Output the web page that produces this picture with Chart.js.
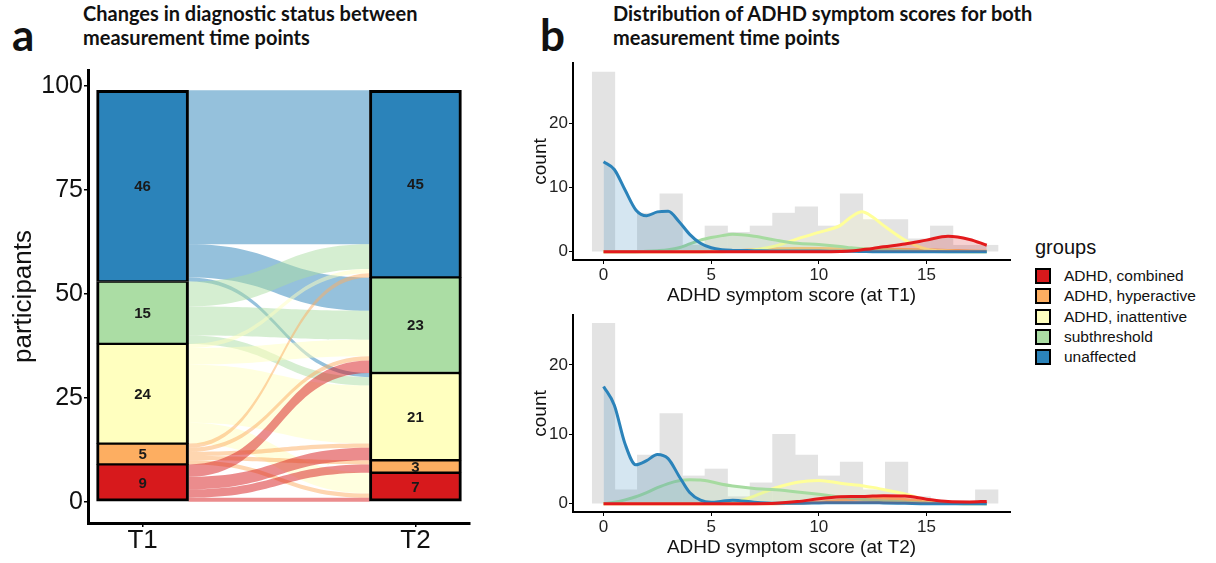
<!DOCTYPE html>
<html>
<head>
<meta charset="utf-8">
<script src="https://cdn.jsdelivr.net/npm/chart.js@4.4.1/dist/chart.umd.min.js"></script>
<style>
  body { margin: 0; background: #fff; width: 1216px; height: 563px; position: relative; overflow: hidden;
         font-family: "Liberation Sans", Arial, sans-serif; color: #111; }
  .letter { position: absolute; font-family: Lato, sans-serif; font-weight: bold; font-size: 44px; line-height: 44px; }
  .title { position: absolute; font-family: Lato, sans-serif; font-weight: bold; font-size: 20px; line-height: 24px; white-space: nowrap; }
  .box { position: absolute; }
  #legend { position: absolute; left: 1035px; top: 235px; }
  #legend .head { font-size: 20px; line-height: 24px; margin-bottom: 7px; }
  #legend .row { display: flex; align-items: center; height: 20.3px; font-size: 15.5px; }
  #legend .sw { width: 16px; height: 16px; box-sizing: border-box; border: 2.5px solid #000; margin-right: 13px; }
</style>
</head>
<body>
<div class="letter" style="left:12px; top:12px;">a</div>
<div class="title" style="left:83px; top:1px;">Changes in diagnostic status between<br>measurement time points</div>
<div class="letter" style="left:540px; top:12px;">b</div>
<div class="title" style="left:613px; top:1px;">Distribution of ADHD symptom scores for both<br>measurement time points</div>

<div class="box" style="left:0; top:60px;"><canvas id="flowChart" width="490" height="500"></canvas></div>
<div class="box" style="left:520px; top:55px;"><canvas id="scoreT1" width="500" height="252"></canvas></div>
<div class="box" style="left:520px; top:307px;"><canvas id="scoreT2" width="500" height="256"></canvas></div>
<div id="legend"></div>

<script>
// diagnostic groups, bottom of the stack first
const groups = ['ADHD, combined', 'ADHD, hyperactive', 'ADHD, inattentive', 'subthreshold', 'unaffected'];
const groupColors = ['#d7191c', '#fdae61', '#ffffbf', '#abdda4', '#2b83ba'];
const lineColors = ['#e31a1c', '#fdae61', '#ffff99', '#a6dba0', '#2b83ba'];
const timePoints = ['T1', 'T2'];
const countsT1 = [9, 5, 24, 15, 46];
const countsT2 = [7, 3, 21, 23, 45];
// rows: status at T1, columns: status at T2 (order as in groups)
const transitions = [
    [1, 2, 3, 3, 0],
    [1, 1, 1, 1, 1],
    [5, 0, 14, 4, 1],
    [0, 0, 2, 7, 6],
    [0, 0, 1, 8, 37]
];
const participantTicks = [0, 25, 50, 75, 100];

// symptom score histograms (18 bins)
const scoreBinWidth = 1.047;
const binCountsT1 = [28, 0, 6, 9, 1, 4, 3, 4, 6, 7, 4, 9, 5, 5, 2, 4, 1, 1];
const binCountsT2 = [26, 2, 7, 13, 4, 5, 1, 3, 10, 7, 4, 6, 2, 6, 1, 0, 0, 2];
const scoreTicks = [0, 5, 10, 15];
const countTicks = [0, 10, 20];

// density curves per group, sampled at densityX
const densityX = [0, 0.5, 1, 1.5, 2, 2.5, 3, 3.5, 4, 4.5, 5, 5.5, 6, 7, 8, 9, 10, 11, 11.5, 12, 12.5, 13, 14, 15, 16, 17, 17.8];
const densT1Combined    = [0, 0, 0, 0, 0, 0, 0, 0, 0, 0, 0, 0, 0, 0, 0, 0, 0, 0.03, 0.1, 0.3, 0.5, 0.75, 1.2, 1.8, 2.4, 1.9, 1.0];
const densT1Hyperactive = [0, 0, 0, 0, 0, 0, 0, 0, 0, 0, 0.02, 0.05, 0.1, 0.3, 0.45, 0.5, 0.5, 0.45, 0.42, 0.4, 0.38, 0.35, 0.35, 0.3, 0.2, 0.1, 0.05];
const densT1Inattentive = [0, 0, 0, 0, 0, 0, 0, 0, 0, 0, 0, 0, 0.05, 0.3, 0.9, 2.0, 3.0, 4.1, 5.4, 6.2, 5.4, 4.1, 1.8, 0.4, 0.1, 0, 0];
const densT1Subthresh   = [0, 0, 0, 0, 0.05, 0.15, 0.3, 0.6, 1.2, 1.8, 2.2, 2.5, 2.7, 2.4, 1.8, 1.3, 1.1, 0.8, 0.6, 0.45, 0.35, 0.3, 0.15, 0.05, 0, 0, 0];
const densT1Unaffected  = [14.0, 12.8, 9.6, 6.5, 5.6, 6.2, 6.3, 4.7, 2.7, 1.3, 0.6, 0.3, 0.2, 0.15, 0.1, 0.1, 0.1, 0.05, 0.05, 0.03, 0, 0, 0, 0, 0, 0, 0];
const densT2Combined    = [0, 0, 0, 0, 0, 0, 0, 0, 0, 0, 0, 0, 0, 0, 0.05, 0.3, 0.7, 1.0, 1.05, 1.05, 1.1, 1.15, 1.1, 0.65, 0.3, 0.25, 0.33];
const densT2Hyperactive = [0, 0, 0, 0, 0, 0, 0, 0, 0, 0, 0, 0, 0, 0, 0, 0.05, 0.2, 0.5, 0.6, 0.7, 0.75, 0.8, 0.6, 0.3, 0.1, 0.05, 0];
const densT2Inattentive = [0, 0, 0, 0, 0, 0, 0, 0, 0, 0, 0, 0.02, 0.15, 1.1, 2.3, 3.1, 3.35, 2.95, 2.75, 2.6, 2.35, 2.05, 1.4, 0.55, 0.1, 0, 0];
const densT2Subthresh   = [0, 0.2, 0.55, 1.0, 1.6, 2.3, 2.9, 3.3, 3.45, 3.4, 3.15, 2.8, 2.55, 2.2, 2.0, 1.7, 1.35, 0.95, 0.8, 0.65, 0.5, 0.4, 0.25, 0.1, 0.05, 0, 0];
const densT2Unaffected  = [16.9, 14.2, 8.6, 5.6, 6.2, 7.1, 6.5, 4.0, 1.6, 0.5, 0.2, 0.35, 0.5, 0.2, 0.05, 0.05, 0.1, 0.15, 0.15, 0.15, 0.15, 0.1, 0.05, 0, 0, 0, 0];

const FONT = '"Liberation Sans", Arial, sans-serif';

function rgba(hex, a) {
    const n = parseInt(hex.slice(1), 16);
    return `rgba(${n >> 16}, ${(n >> 8) & 255}, ${n & 255}, ${a})`;
}

// bottom of every stratum in a stacked column
function stackBases(counts) {
    const bases = [];
    let sum = 0;
    counts.forEach(c => { bases.push(sum); sum += c; });
    return bases;
}

// fixed axis width, and no extra room reserved for the end tick labels
function fixWidth(w) {
    return s => { s.width = w; s.paddingTop = 0; s.paddingBottom = 0; };
}

const basesT1 = stackBases(countsT1);
const basesT2 = stackBases(countsT2);

// flows between the two columns, drawn under the bars
const alluvialFlows = {
    id: 'alluvialFlows',
    beforeDatasetsDraw(chart) {
        const {ctx, scales: {x, y}} = chart;
        const half = chart.getDatasetMeta(0).data[0].width / 2;
        const x0 = x.getPixelForValue(1) + half;
        const x1 = x.getPixelForValue(2) - half;
        const xm = (x0 + x1) / 2;
        const used1 = groups.map(() => 0);
        const used2 = groups.map(() => 0);
        ctx.save();
        for (let f = groups.length - 1; f >= 0; f--) {
            for (let t = groups.length - 1; t >= 0; t--) {
                const n = transitions[f][t];
                if (!n) continue;
                const top1 = basesT1[f] + countsT1[f] - used1[f];
                const top2 = basesT2[t] + countsT2[t] - used2[t];
                used1[f] += n;
                used2[t] += n;
                const a0 = y.getPixelForValue(top1), b0 = y.getPixelForValue(top1 - n);
                const a1 = y.getPixelForValue(top2), b1 = y.getPixelForValue(top2 - n);
                ctx.beginPath();
                ctx.moveTo(x0, a0);
                ctx.bezierCurveTo(xm, a0, xm, a1, x1, a1);
                ctx.lineTo(x1, b1);
                ctx.bezierCurveTo(xm, b1, xm, b0, x0, b0);
                ctx.closePath();
                ctx.fillStyle = rgba(groupColors[f], 0.5);
                ctx.fill();
            }
        }
        ctx.restore();
    }
};

// counts written in the middle of each stratum
const stratumLabels = {
    id: 'stratumLabels',
    afterDatasetsDraw(chart) {
        const {ctx} = chart;
        ctx.save();
        ctx.font = 'bold 15px ' + FONT;
        ctx.fillStyle = '#1a1a1a';
        ctx.textAlign = 'center';
        ctx.textBaseline = 'middle';
        chart.data.datasets.forEach((ds, i) => {
            chart.getDatasetMeta(i).data.forEach((bar, j) => {
                const value = (j === 0 ? countsT1 : countsT2)[i];
                ctx.fillText(value, bar.x, (bar.y + bar.base) / 2 + 1);
            });
        });
        ctx.restore();
    }
};

new Chart(document.getElementById('flowChart'), {
    type: 'bar',
    data: {
        datasets: groups.map((g, i) => ({
            label: g,
            data: [
                {x: 1, y: [basesT1[i], basesT1[i] + countsT1[i]]},
                {x: 2, y: [basesT2[i], basesT2[i] + countsT2[i]]}
            ],
            backgroundColor: groupColors[i],
            borderColor: '#000',
            borderWidth: {
                left: 3, right: 3,
                top: i === groups.length - 1 ? 3 : 1.5,
                bottom: i === 0 ? 3 : 1.5
            },
            borderSkipped: false,
            barThickness: 92,
            grouped: false
        }))
    },
    options: {
        responsive: false,
        animation: false,
        layout: {padding: {top: 10, right: 20, left: 0, bottom: 0}},
        plugins: {legend: {display: false}, tooltip: {enabled: false}},
        scales: {
            x: {
                type: 'linear',
                min: 0.8,
                max: 2.2,
                offset: false,
                afterBuildTicks: s => { s.ticks = timePoints.map((t, i) => ({value: i + 1})); },
                afterFit: s => { s.height = 37; },
                ticks: {
                    callback: v => timePoints[v - 1],
                    font: {family: FONT, size: 26},
                    color: '#111',
                    padding: -2
                },
                grid: {display: true, drawOnChartArea: false, offset: false, tickLength: 4, color: '#000', lineWidth: 1.5},
                border: {display: true, color: '#000', width: 3}
            },
            y: {
                type: 'linear',
                min: -5.1,
                max: 103.9,
                afterBuildTicks: s => { s.ticks = participantTicks.map(v => ({value: v})); },
                afterFit: fixWidth(88),
                ticks: {font: {family: FONT, size: 25}, color: '#111', padding: 1},
                grid: {display: true, drawOnChartArea: false, tickLength: 4, color: '#000', lineWidth: 1.5},
                border: {display: true, color: '#000', width: 3},
                title: {
                    display: true,
                    text: 'participants',
                    font: {family: FONT, size: 26},
                    color: '#111',
                    padding: {top: 8, bottom: 0}
                }
            }
        }
    },
    plugins: [alluvialFlows, stratumLabels]
});

function scoreChart(canvasId, binCounts, densities, axisTitle, yRange, xHeight, titlePad, topPad) {
    const datasets = [{
        type: 'bar',
        data: binCounts.map((c, k) => ({x: k * scoreBinWidth, y: c})),
        backgroundColor: '#e3e3e3',
        barPercentage: 1,
        categoryPercentage: 1,
        order: 10
    }];
    // combined (red) is drawn last so it sits on top of the other curves
    densities.forEach((vals, g) => {
        datasets.push({
            type: 'line',
            label: groups[g],
            data: densityX.map((x, i) => ({x: x, y: vals[i]})),
            borderColor: lineColors[g],
            backgroundColor: rgba(groupColors[g], 0.2),
            borderWidth: 3,
            pointRadius: 0,
            cubicInterpolationMode: 'monotone',
            fill: {value: 0},
            order: g === 0 ? 1 : 1 + densities.length - g
        });
    });

    return new Chart(document.getElementById(canvasId), {
        type: 'bar',
        data: {datasets},
        options: {
            responsive: false,
            animation: false,
            layout: {padding: {top: topPad, right: 10, left: 0, bottom: 0}},
            plugins: {legend: {display: false}, tooltip: {enabled: false}},
            scales: {
                x: {
                    type: 'linear',
                    min: -1.42,
                    max: 18.88,
                    offset: false,
                    afterBuildTicks: s => { s.ticks = scoreTicks.map(v => ({value: v})); },
                    afterFit: s => { s.height = xHeight; },
                    ticks: {font: {family: FONT, size: 17}, color: '#222', padding: 1},
                    grid: {display: true, drawOnChartArea: false, offset: false, tickLength: 4, color: '#000', lineWidth: 1},
                    border: {display: true, color: '#000', width: 2},
                    title: {
                        display: true,
                        text: axisTitle,
                        font: {family: FONT, size: 19},
                        color: '#111',
                        padding: {top: 0, bottom: titlePad}
                    }
                },
                y: {
                    type: 'linear',
                    min: yRange[0],
                    max: yRange[1],
                    afterBuildTicks: s => { s.ticks = countTicks.map(v => ({value: v})); },
                    afterFit: fixWidth(53),
                    ticks: {font: {family: FONT, size: 17}, color: '#222', padding: 1},
                    grid: {display: true, drawOnChartArea: false, tickLength: 4, color: '#000', lineWidth: 1},
                    border: {display: true, color: '#000', width: 2},
                    title: {
                        display: true,
                        text: 'count',
                        font: {family: FONT, size: 19},
                        color: '#111',
                        padding: {top: 9, bottom: 0}
                    }
                }
            }
        }
    });
}

scoreChart('scoreT1', binCountsT1,
    [densT1Combined, densT1Hyperactive, densT1Inattentive, densT1Subthresh, densT1Unaffected],
    'ADHD symptom score (at T1)', [-1.3, 29.4], 47, 0, 8);
scoreChart('scoreT2', binCountsT2,
    [densT2Combined, densT2Hyperactive, densT2Inattentive, densT2Subthresh, densT2Unaffected],
    'ADHD symptom score (at T2)', [-1.2, 27.2], 51, 4, 8);

// shared legend for the two score panels
const legend = document.getElementById('legend');
legend.innerHTML = '<div class="head">groups</div>' + groups.map((g, i) =>
    `<div class="row"><span class="sw" style="background:${groupColors[i]}"></span>${g}</div>`).join('');
</script>
</body>
</html>
